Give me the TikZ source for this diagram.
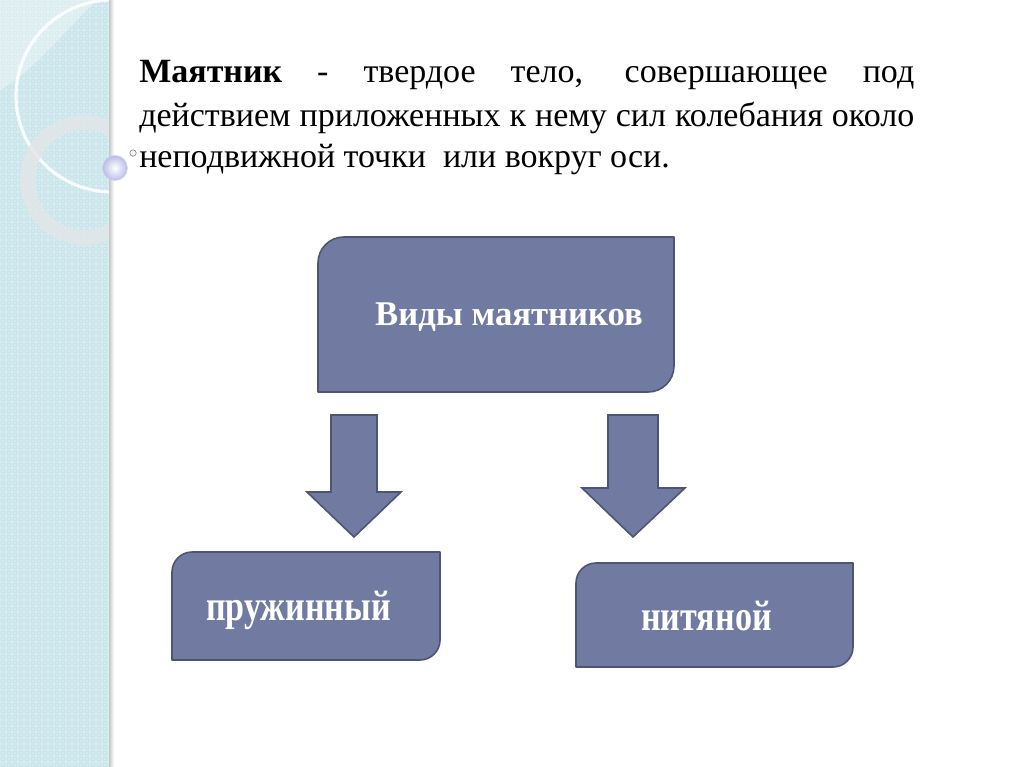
\documentclass[tikz,border=0pt]{standalone}
\usepackage{fontspec}
\setmainfont{Liberation Serif}
\newfontfamily\narrowserif[FakeStretch=0.8]{Liberation Serif}
\usetikzlibrary{calc}
\definecolor{stripbg}{HTML}{D4EBF0}
\definecolor{stripdot}{HTML}{BFDCE4}
\definecolor{boxfill}{HTML}{717AA1}
\definecolor{boxline}{HTML}{4D5576}
\definecolor{ringcol}{HTML}{E2E6E8}
\definecolor{lav}{HTML}{B9BDE6}
\tikzset{
  boxshape/.style={fill=boxfill, draw=boxline, line width=1.2pt, line join=round},
  blockarrow/.style={fill=boxfill, draw=boxline, line width=1.2pt, line join=miter},
  boxtext/.style={text=white, inner sep=0pt, anchor=base},
  bodytext/.style={anchor=base west, inner sep=0pt, font=\fontsize{25.5}{30}\selectfont},
}
\begin{document}
\begin{tikzpicture}[x=0.75pt,y=-0.75pt]
\useasboundingbox (0,0) rectangle (1024,767);
\fill[white] (0,0) rectangle (1024,767);
% left decorative strip
\begin{scope}
\clip (0,0) rectangle (110,767);
\fill[stripbg] (0,0) rectangle (110,767);
\foreach \i in {0,...,18} {
  \foreach \j in {0,...,128} {
    \draw[stripdot, line width=0.35pt] ({\i*6+3},{\j*6+3}) circle (2);
  }
}
\fill[white, opacity=0.35] (0,0) -- (97,0) .. controls (65,30) and (35,70) .. (0,90) -- cycle;
\draw[white, line width=2.4pt, opacity=0.85] (112,96) circle (96);
\fill[ringcol, opacity=0.8, even odd rule] (85,180) circle (65) (85,180) circle (50);
\end{scope}
\shade[left color=black!22, right color=white] (109,0) rectangle (114,767);
% ball and small circle
\shade[inner color=white, outer color=lav] (115,168) circle (12.5);
\draw[lav!70!white, line width=0.4pt] (115,168) circle (12.5);
\draw[fill=white, draw=black!45, line width=0.5pt] (133,153) circle (3.2);
% heading text
\node[bodytext] (line1) at (139,83) {\makebox[581.25pt][s]{\textbf{Маятник} - твердое тело, совершающее под}};
\node[bodytext] (line2) at (139,126) {\makebox[581.25pt][s]{действием приложенных к нему сил колебания около}};
\node[bodytext] (line3) at (139,167) {неподвижной точки \ или вокруг оси.};
% top box
\path[boxshape] (318,392) -- (318,263) .. controls (318,248.4) and (329.6,237) .. (344,237) -- (674,237) -- (674,366) .. controls (674,380.4) and (662.4,392) .. (648,392) -- cycle;
\node[boxtext, font=\fontsize{26}{30}\selectfont\bfseries] (top) at (509,325) {Виды маятников};
% arrows
\path[blockarrow] (331,415) -- (377,415) -- (377,492) -- (401,492) -- (354,537) -- (307,492) -- (331,492) -- cycle;
\path[blockarrow] (608,415) -- (658,415) -- (658,488) -- (685,488) -- (633,537) -- (582,488) -- (608,488) -- cycle;
% bottom boxes
\path[boxshape] (172,660) -- (172,572) .. controls (172,561) and (181,552) .. (192,552) -- (440,552) -- (440,640) .. controls (440,651) and (431,660) .. (420,660) -- cycle;
\node[boxtext, font=\narrowserif\fontsize{32}{36}\selectfont\bfseries] (spring) at (298.5,620) {пружинный};
\path[boxshape] (576,667) -- (576,583) .. controls (576,572) and (585,563) .. (596,563) -- (853,563) -- (853,647) .. controls (853,658) and (844,667) .. (833,667) -- cycle;
\node[boxtext, font=\narrowserif\fontsize{32}{36}\selectfont\bfseries] (thread) at (706.5,630) {нитяной};
\end{tikzpicture}
\end{document}
